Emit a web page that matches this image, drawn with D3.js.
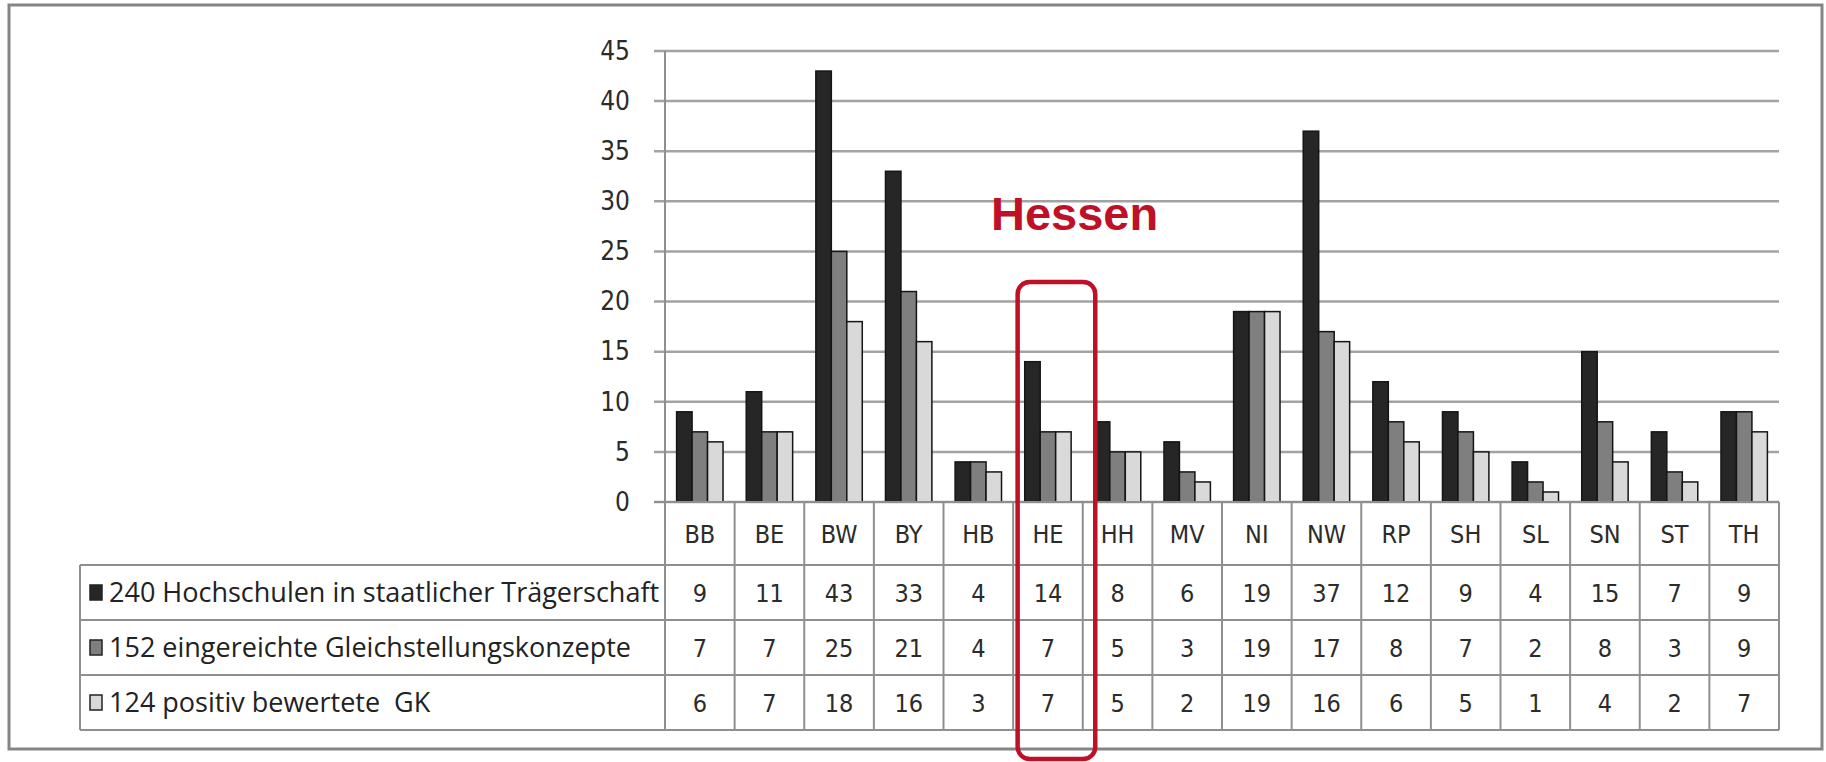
<!DOCTYPE html>
<html>
<head>
<meta charset="utf-8">
<script src="https://cdn.jsdelivr.net/npm/d3@7"></script>
<style>
  html, body { margin: 0; padding: 0; background: #fff; }
  svg { display: block; }
  .num { font-family: "DejaVu Sans Condensed", "DejaVu Sans", sans-serif; font-stretch: condensed; fill: #2b2b2b; }
  .lbl { font-family: "Open Sans", "Lato", sans-serif; fill: #222; white-space: pre; }
</style>
</head>
<body>
<svg id="chart" width="1826" height="762"></svg>
<script>
// Bundesländer and the three counts per state
const states = ["BB","BE","BW","BY","HB","HE","HH","MV","NI","NW","RP","SH","SL","SN","ST","TH"];
const hochschulen   = [9, 11, 43, 33, 4, 14, 8, 6, 19, 37, 12, 9, 4, 15, 7, 9];
const eingereicht   = [7, 7, 25, 21, 4, 7, 5, 3, 19, 17, 8, 7, 2, 8, 3, 9];
const positiv       = [6, 7, 18, 16, 3, 7, 5, 2, 19, 16, 6, 5, 1, 4, 2, 7];
const seriesNames = [
  "240 Hochschulen in staatlicher Trägerschaft",
  "152 eingereichte Gleichstellungskonzepte",
  "124 positiv bewertete  GK"
];
const yTicks = [0, 5, 10, 15, 20, 25, 30, 35, 40, 45];
const highlight = "HE";
const highlightTitle = "Hessen";

const seriesValues = [hochschulen, eingereicht, positiv];
const seriesFill = ["#262626", "#7f7f7f", "#d9d9d9"];

const svg = d3.select("#chart");

// outer frame
svg.append("rect")
  .attr("x", 9).attr("y", 5).attr("width", 1813).attr("height", 744)
  .attr("fill", "none").attr("stroke", "#858585").attr("stroke-width", 3);

// scales
const plotLeft = 665, plotRight = 1779, plotTop = 51, plotBottom = 502;
const x = d3.scaleBand().domain(states).range([plotLeft, plotRight]).padding(0);
const xs = d3.scaleBand().domain(d3.range(3)).range([0, x.bandwidth()]).paddingInner(0).paddingOuter(0.75);
const y = d3.scaleLinear().domain([0, 45]).range([plotBottom, plotTop]);

// horizontal gridlines
svg.append("g").selectAll("line").data(yTicks).join("line")
  .attr("x1", plotLeft - 11).attr("x2", plotRight)
  .attr("y1", d => y(d)).attr("y2", d => y(d))
  .attr("stroke", "#a3a3a3").attr("stroke-width", 2.5);

// y axis labels
const yAxis = svg.append("g").attr("transform", `translate(${plotLeft},0)`)
  .call(d3.axisLeft(y).tickValues(yTicks).tickSize(0).tickPadding(35));
yAxis.select(".domain").remove();
yAxis.selectAll("text").attr("class", "num").attr("font-size", 26).attr("fill", "#333");

// bars
const groups = svg.append("g").selectAll("g").data(states).join("g")
  .attr("transform", d => `translate(${x(d)},0)`);
groups.selectAll("rect").data((d, i) => seriesValues.map((s, k) => ({k, v: s[i]}))).join("rect")
  .attr("x", d => xs(d.k)).attr("width", xs.bandwidth())
  .attr("y", d => y(d.v)).attr("height", d => y(0) - y(d.v))
  .attr("fill", d => seriesFill[d.k])
  .attr("stroke", "#151515").attr("stroke-width", 1.5);

// data table
const rowTops = [502, 565, 620, 675, 730];
const tableLeft = 80;
const grid = svg.append("g").attr("stroke", "#8f8f8f").attr("stroke-width", 2).attr("fill", "none");
// vertical column lines (first one continues the value axis)
grid.selectAll("line.v").data(states.map(s => x(s)).concat([plotRight])).join("line")
  .attr("class", "v")
  .attr("x1", d => d).attr("x2", d => d)
  .attr("y1", (d, i) => i === 0 ? plotTop : rowTops[0]).attr("y2", rowTops[4]);
// baseline
svg.append("line").attr("x1", plotLeft - 11).attr("x2", plotRight)
  .attr("y1", y(0)).attr("y2", y(0)).attr("stroke", "#8f8f8f").attr("stroke-width", 2);
// row lines
grid.selectAll("line.h").data(rowTops.slice(1)).join("line")
  .attr("class", "h")
  .attr("x1", tableLeft).attr("x2", plotRight)
  .attr("y1", d => d).attr("y2", d => d);
grid.append("line").attr("x1", tableLeft).attr("x2", tableLeft)
  .attr("y1", rowTops[1]).attr("y2", rowTops[4]);

// category labels
const xAxis = svg.append("g").attr("transform", `translate(0,${rowTops[0]})`)
  .call(d3.axisBottom(x).tickSize(0));
xAxis.select(".domain").remove();
xAxis.selectAll("text").attr("class", "num").attr("font-size", 25)
  .attr("y", (rowTops[1] - rowTops[0]) / 2).attr("dy", "0.36em");

// value cells
seriesValues.forEach((vals, k) => {
  const cy = (rowTops[k + 1] + rowTops[k + 2]) / 2;
  svg.append("g").selectAll("text").data(vals).join("text")
    .attr("class", "num").attr("font-size", 25)
    .attr("text-anchor", "middle")
    .attr("x", (d, i) => x(states[i]) + x.bandwidth() / 2)
    .attr("y", cy).attr("dy", "0.36em")
    .text(d => d);
  // legend key and series name
  svg.append("rect")
    .attr("x", 90).attr("y", cy - 7.5).attr("width", 12).attr("height", 15)
    .attr("fill", seriesFill[k]).attr("stroke", "#222").attr("stroke-width", 1.5);
  svg.append("text").attr("class", "lbl").attr("font-size", 27)
    .attr("x", 109).attr("y", cy).attr("dy", "0.36em")
    .text(seriesNames[k]);
});

// highlighted state
const hx = x(highlight);
svg.append("rect")
  .attr("x", hx + 4.5).attr("y", 282).attr("width", x.bandwidth() + 8).attr("height", 477)
  .attr("rx", 12).attr("ry", 12)
  .attr("fill", "none").attr("stroke", "#be1128").attr("stroke-width", 4.5);
svg.append("text")
  .attr("x", 991).attr("y", 230)
  .attr("font-family", "Liberation Sans, Arial, sans-serif").attr("font-weight", "bold")
  .attr("font-size", 47).attr("fill", "#be1128")
  .text(highlightTitle);
</script>
</body>
</html>
